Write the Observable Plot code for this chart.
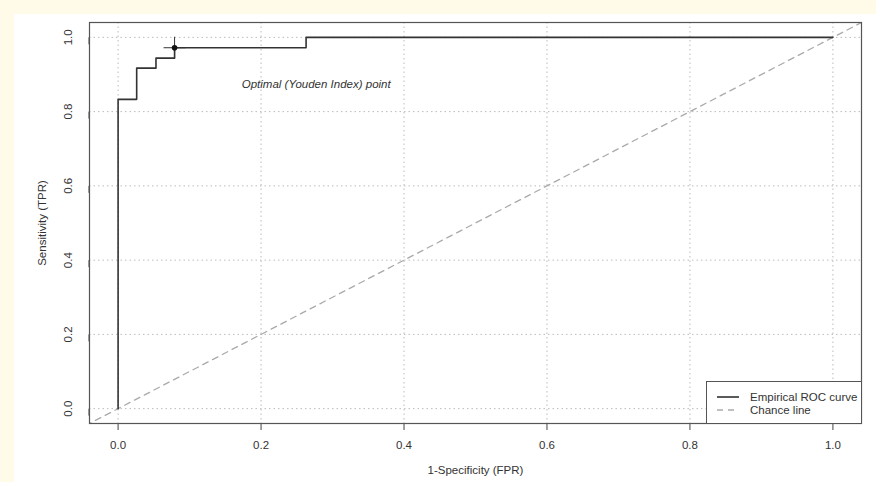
<!DOCTYPE html>
<html>
<head>
<meta charset="utf-8">
<script src="https://cdn.jsdelivr.net/npm/d3@7"></script>
<script src="https://cdn.jsdelivr.net/npm/@observablehq/plot@0.6"></script>
<style>
  body { margin: 0; font-family: "Liberation Sans", Arial, sans-serif; }
  #wrap { position: relative; width: 876px; height: 482px; background: #fffbe8; overflow: hidden; }
  #paper { position: absolute; left: 14px; top: 14px; right: 0; bottom: 0; background: #fff; }
  #chart { position: absolute; left: 0; top: 0; }
  #legend { position: absolute; left: 706px; top: 381px; width: 154px; height: 41px; border: 1px solid #555; background: #fff; font-size: 11.5px; color: #333; }
  #legend .row { position: absolute; left: 10px; height: 14px; display: flex; align-items: center; }
  #legend svg { margin-right: 11px; }
</style>
</head>
<body>
<div id="wrap">
  <div id="paper"></div>
  <div id="chart"></div>
  <div id="legend">
    <div class="row" style="top:8px"><svg width="22" height="4"><line x1="0" y1="2" x2="22" y2="2" stroke="#333" stroke-width="1.6"/></svg>Empirical ROC curve</div>
    <div class="row" style="top:21px"><svg width="22" height="4"><line x1="0" y1="2" x2="22" y2="2" stroke="#aaa" stroke-width="1.3" stroke-dasharray="6,5"/></svg>Chance line</div>
  </div>
</div>
<script>
// ROC curve vertices (FPR, TPR), drawn with a step-after curve
const fpr = [0, 0, 0.026, 0.053, 0.079, 0.263, 1.0];
const tpr = [0, 0.833, 0.917, 0.944, 0.972, 1.0, 1.0];
// Optimal (Youden index) point
const optFpr = [0.079];
const optTpr = [0.972];
// Chance line endpoints (clipped to frame)
const chance = [-0.1, 1.1];
// Ticks
const xTicks = [0, 0.2, 0.4, 0.6, 0.8, 1.0];
const yTicks = [0, 0.2, 0.4, 0.6, 0.8, 1.0];
const annotation = ["Optimal (Youden Index) point"];
const annX = [0.173], annY = [0.874];

const roc = fpr.map((x, i) => ({x, y: tpr[i]}));
const opt = optFpr.map((x, i) => ({x, y: optTpr[i]}));
const ann = annotation.map((t, i) => ({t, x: annX[i], y: annY[i]}));

const plusSymbol = {
  draw(ctx, size) {
    const r = Math.sqrt(size / Math.PI);
    ctx.moveTo(-r, 0); ctx.lineTo(r, 0);
    ctx.moveTo(0, -r); ctx.lineTo(0, r);
  }
};
const fmt = d3.format(".1f");

const chart = Plot.plot({
  width: 876,
  height: 482,
  marginLeft: 89,
  marginRight: 15,
  marginTop: 22,
  marginBottom: 59,
  style: { background: "transparent", fontFamily: "'Liberation Sans', Arial, sans-serif", fontSize: "11.5px", color: "#333" },
  x: { domain: [-0.04, 1.04] },
  y: { domain: [-0.04, 1.04] },
  marks: [
    Plot.gridX(xTicks, { stroke: "#bbb", strokeOpacity: 1, strokeDasharray: "1.5,3" }),
    Plot.gridY(yTicks, { stroke: "#bbb", strokeOpacity: 1, strokeDasharray: "1.5,3" }),
    Plot.line(chance, { x: d => d, y: d => d, stroke: "#aaa", strokeWidth: 1.3, strokeDasharray: "6,5", clip: true }),
    Plot.line(roc, { x: "x", y: "y", curve: "step-after", stroke: "#333", strokeWidth: 1.6 }),
    Plot.dot(opt, { x: "x", y: "y", symbol: plusSymbol, r: 11, stroke: "#333", strokeWidth: 1, fill: "none" }),
    Plot.dot(opt, { x: "x", y: "y", r: 2.8, fill: "#111", stroke: "none" }),
    Plot.text(ann, { x: "x", y: "y", text: "t", textAnchor: "start", fontStyle: "italic", fontSize: 11.5, fill: "#333" }),
    Plot.axisX(xTicks, { tickFormat: fmt, tickSize: 7, tickPadding: 10, label: null, stroke: "#444", fill: "#333", fontSize: 11.5 }),
    Plot.axisY(yTicks, { tickFormat: fmt, tickSize: 7, tickPadding: 14, rotate: -90, textAnchor: "middle", label: null, stroke: "#444", fill: "#333", fontSize: 11.5 }),
    Plot.text(["1-Specificity (FPR)"], { frameAnchor: "bottom", textAnchor: "middle", dy: 50, fill: "#333", fontSize: 11.5 }),
    Plot.text(["Sensitivity (TPR)"], { frameAnchor: "left", textAnchor: "middle", dx: -47, rotate: -90, fill: "#333", fontSize: 11.5 }),
    Plot.frame({ stroke: "#555", strokeWidth: 1.2 })
  ]
});
document.getElementById("chart").appendChild(chart);
</script>
</body>
</html>
